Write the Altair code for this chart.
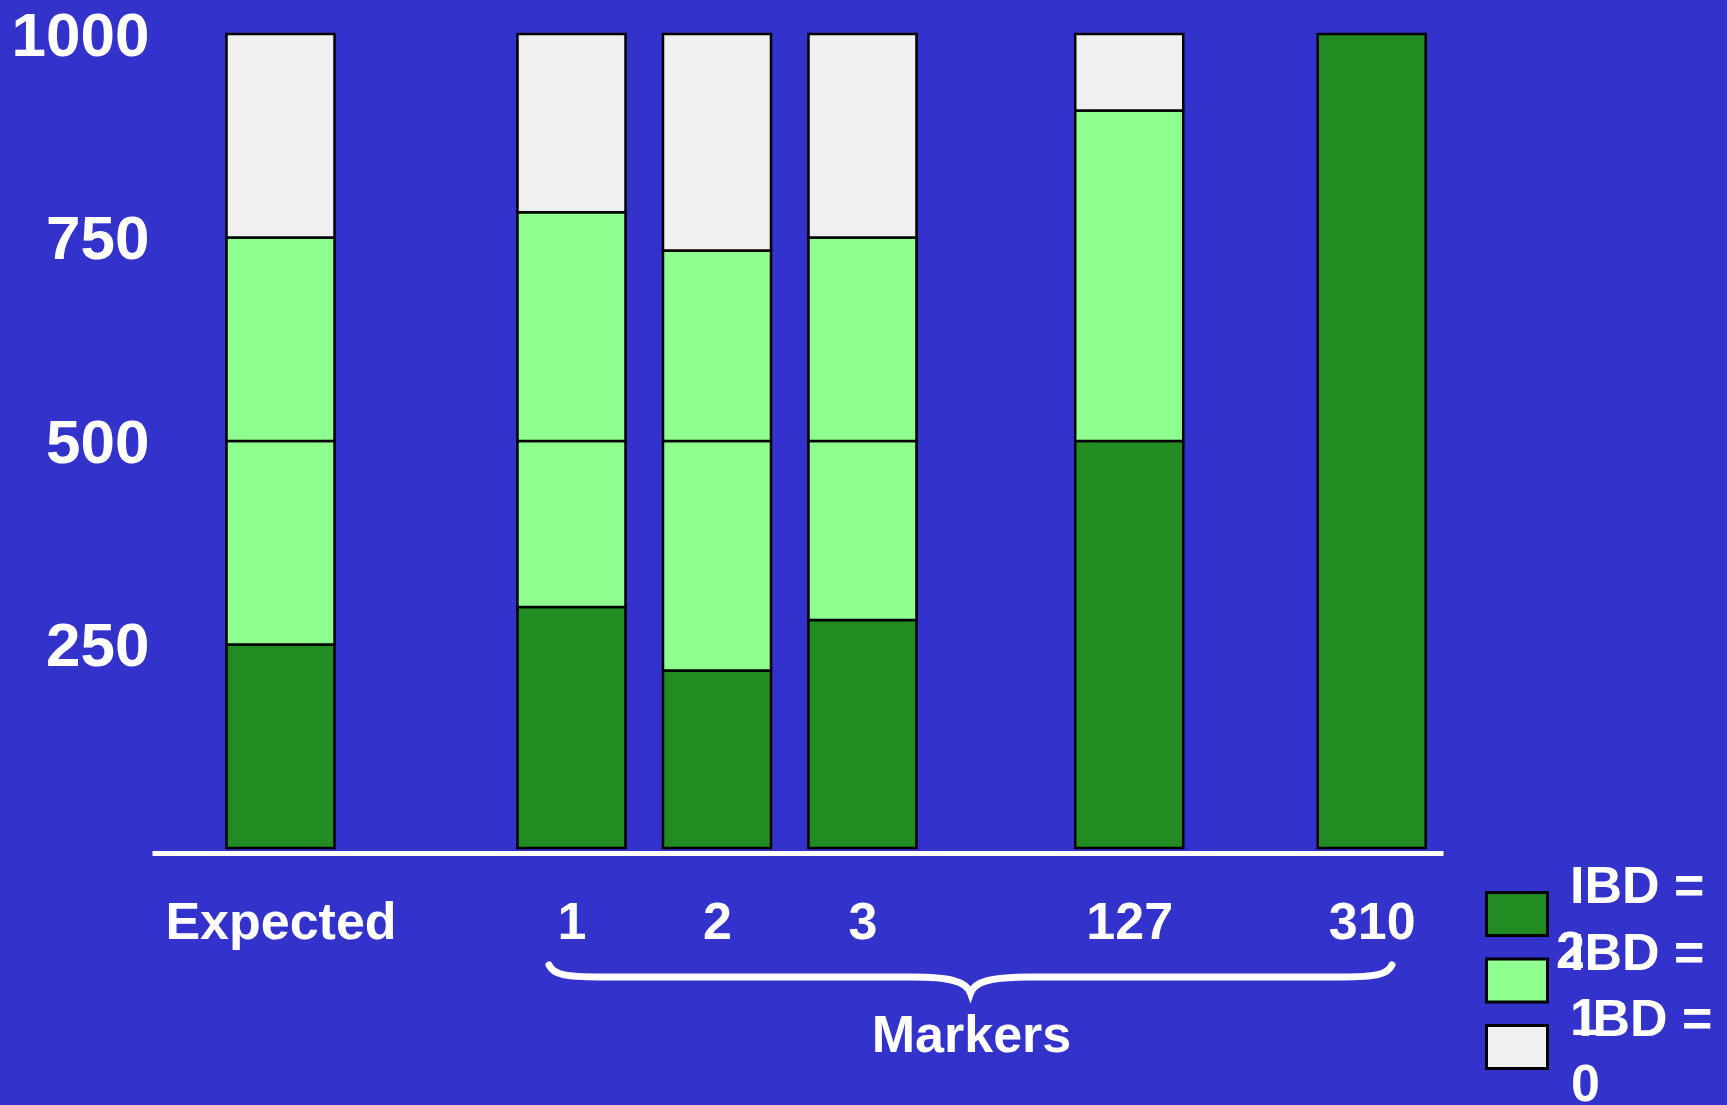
import altair as alt
import pandas as pd

# ---- data ----
categories = ["Expected", "1", "2", "3", "127", "310"]
ibd2 = [250, 296, 218, 280, 500, 1000]
ibd1_lower = [250, 204, 282, 220, 0, 0]
ibd1_upper = [250, 281, 234, 250, 406, 0]
ibd0 = [250, 219, 266, 250, 94, 0]
series_names = ["IBD = 2", "IBD = 1", "IBD = 0"]
y_ticks = [250, 500, 750, 1000]
x_title = "Markers"

# ---- long table ----
parts = [("IBD = 2", "a", ibd2), ("IBD = 1", "b", ibd1_lower),
         ("IBD = 1", "c", ibd1_upper), ("IBD = 0", "d", ibd0)]
rows = []
for k, (name, part, vals) in enumerate(parts):
    for cat, v in zip(categories, vals):
        if v > 0:
            rows.append({"cat": cat, "ibd": name, "part": part, "order": k, "value": v})
df = pd.DataFrame(rows)

# ---- layout: slots on a point scale, with empty spacer slots ----
lead, trail = 5, 2
slot_index = [0, 12, 18, 24, 35, 45]
n_slots = lead + 46 + trail
domain = [f"_{i}" for i in range(n_slots)]
for c, i in zip(categories, slot_index):
    domain[lead + i] = c

FONT = "Liberation Sans"
BG = "#3333CC"
W, H = 1291, 814
color_scale = alt.Scale(domain=series_names, range=["#228B22", "#8FFF8F", "#F0F0F0"])

bars = alt.Chart(df).mark_bar(size=108, stroke="black", strokeWidth=2.5).encode(
    x=alt.X("cat:N",
            scale=alt.Scale(type="point", domain=domain, padding=0.62, align=0.242),
            axis=alt.Axis(values=categories, title=x_title, labelAngle=0, ticks=False, tickSize=0,
                          domain=True, domainColor="white", domainWidth=5, offset=5,
                          labelFont=FONT, labelFontSize=52, labelFontWeight="bold",
                          labelColor="white", labelBaseline="middle", labelPadding=69,
                          labelLimit=600, labelOverlap=False, labelBound=False,
                          labelFlush=False, grid=False,
                          titleFont=FONT, titleFontSize=52, titleFontWeight="bold",
                          titleColor="white", titleX=819, titleY=182, titleAlign="center",
                          titleBaseline="middle")),
    y=alt.Y("value:Q", stack="zero",
            scale=alt.Scale(domain=[0, 1000], nice=False),
            axis=alt.Axis(values=y_ticks, format="d", title=None, ticks=False, domain=False,
                          grid=False, labelFont=FONT, labelFontSize=62, labelFontWeight="bold",
                          labelColor="white", labelPadding=3, labelOffset=2, labelBound=False,
                          labelFlush=False, labelOverlap=False, labelLimit=400)),
    color=alt.Color("ibd:N", scale=color_scale, legend=None),
    detail="part:N",
    order=alt.Order("order:Q"),
)

brace_path = ("M -1 -0.0285 C -0.99 -0.005 -0.96 0 -0.88 0 L -0.14 0 "
              "C -0.05 0 -0.01 0.01 0 0.038 C 0.01 0.01 0.05 0 0.14 0 "
              "L 0.88 0 C 0.96 0 0.99 -0.005 1 -0.0285")
brace = alt.Chart(pd.DataFrame({"k": [x_title]})).mark_point(
    shape=brace_path, size=843 ** 2, filled=False, stroke="white", strokeWidth=7,
    strokeCap="round", opacity=1
).encode(x=alt.value(818.5), y=alt.value(943))

# ---- hand-built legend (labels wrap onto a second line, as in the reference) ----
leg_df = pd.DataFrame({"ibd": series_names})
leg_y = alt.Y("ibd:N", scale=alt.Scale(type="point", domain=series_names, range=[880, 1013], padding=0),
              axis=None)
leg_sym = alt.Chart(leg_df).mark_point(
    shape="M -1 -0.705 L 1 -0.705 L 1 0.705 L -1 0.705 Z", size=3721, filled=True,
    opacity=1, stroke="black", strokeWidth=3
).encode(x=alt.value(1365), y=leg_y, color=alt.Color("ibd:N", scale=color_scale, legend=None))

line1_dx = [0, 0, 8]
line2_dx = [-14, 0, 1]
leg_layers = []
for name, d1, d2 in zip(series_names, line1_dx, line2_dx):
    base = alt.Chart(leg_df).transform_filter(alt.datum.ibd == name)
    t1 = base.transform_calculate(lab="split(datum.ibd, ' = ')[0] + ' ='").mark_text(
        align="left", baseline="middle", font=FONT, fontSize=52, fontWeight="bold",
        color="white", dx=d1, dy=-27
    ).encode(x=alt.value(1418), y=leg_y, text="lab:N")
    t2 = base.transform_calculate(lab="split(datum.ibd, ' = ')[1]").mark_text(
        align="left", baseline="middle", font=FONT, fontSize=52, fontWeight="bold",
        color="white", dx=d2, dy=38
    ).encode(x=alt.value(1418), y=leg_y, text="lab:N")
    leg_layers += [t1, t2]

chart = alt.layer(bars, brace, leg_sym, *leg_layers).resolve_scale(
    y="independent", color="shared"
).properties(
    width=W, height=H, autosize="none",
    padding={"left": 152, "top": 34, "right": 1727 - 152 - W, "bottom": 1105 - 34 - H},
    background=BG,
).configure_view(stroke=None)

chart.save("out.html", embed_options={"renderer": "svg", "actions": False})
